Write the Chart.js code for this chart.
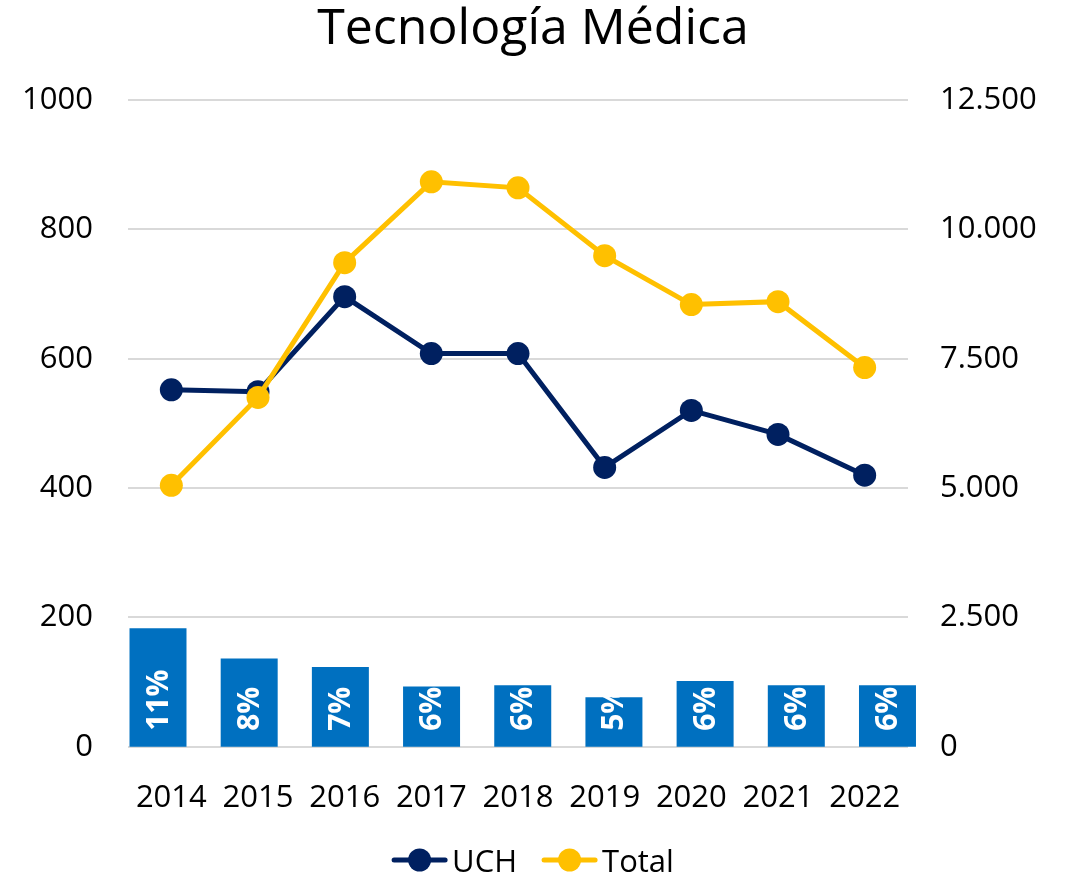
<!DOCTYPE html>
<html><head><meta charset="utf-8">
<script src="https://cdn.jsdelivr.net/npm/chart.js@4"></script>
<style>html,body{margin:0;padding:0;background:#fff}</style>
</head><body>
<canvas id="c" width="1066" height="877" style="width:1066px;height:877px;display:block"></canvas>
<script>
const years = ['2014','2015','2016','2017','2018','2019','2020','2021','2022'];
const uch = [552, 549, 696, 608, 608, 432, 520, 483, 420];
const total = [5054, 6752, 9356, 10918, 10802, 9491, 8546, 8603, 7330];
const share = [0.110, 0.082, 0.074, 0.056, 0.057, 0.046, 0.061, 0.057, 0.057];
const leftMax = 1000, leftStep = 200;
const rightMax = 12500, rightStep = 2500;
const shareMax = 0.6;

const NAVY = '#002060', YELLOW = '#FFC000', BLUE = '#0070C0';
const FONT = "'Open Sans', sans-serif";

function fmtDots(v) {
  return String(v).replace(/\B(?=(\d{3})+(?!\d))/g, '.');
}

const barLabels = {
  id: 'barLabels',
  afterDatasetDraw(chart, args) {
    if (args.index !== 0) return;
    const ctx = chart.ctx;
    ctx.save();
    ctx.fillStyle = '#ffffff';
    ctx.font = "bold 30px " + FONT;
    ctx.textAlign = 'left';
    ctx.textBaseline = 'middle';
    args.meta.data.forEach((bar, i) => {
      ctx.save();
      ctx.translate(bar.x + 1, bar.base - 16);
      ctx.rotate(-Math.PI / 2);
      ctx.fillText(Math.round(share[i] * 100) + '%', 0, 0);
      ctx.restore();
    });
    ctx.restore();
  }
};

const customLegend = {
  id: 'customLegend',
  afterDraw(chart) {
    const ctx = chart.ctx;
    const items = [chart.data.datasets[1], chart.data.datasets[2]];
    ctx.save();
    ctx.font = "31px " + FONT;
    const iconW = 55, gapText = 5, gapItem = 25;
    const widths = items.map(d => iconW + gapText + ctx.measureText(d.label).width);
    const totalW = widths.reduce((a, b) => a + b, 0) + gapItem * (items.length - 1);
    let x = chart.width / 2 - totalW / 2;
    const cy = 860;
    items.forEach((d, i) => {
      ctx.strokeStyle = d.borderColor; ctx.lineWidth = 5; ctx.lineCap = 'round';
      ctx.beginPath(); ctx.moveTo(x + 2, cy); ctx.lineTo(x + iconW - 2, cy); ctx.stroke();
      ctx.fillStyle = d.borderColor;
      ctx.beginPath(); ctx.arc(x + iconW / 2, cy, 11.5, 0, Math.PI * 2); ctx.fill();
      ctx.fillStyle = '#000'; ctx.textAlign = 'left'; ctx.textBaseline = 'alphabetic';
      ctx.fillText(d.label, x + iconW + gapText, 872);
      x += widths[i] + gapItem;
    });
    ctx.restore();
  }
};

new Chart(document.getElementById('c'), {
  data: {
    labels: years,
    datasets: [
      { type: 'bar', label: '%', data: share.map((v, i) => ({ x: i, y: v })), xAxisID: 'xb', yAxisID: 'yp',
        backgroundColor: BLUE, grouped: false, barPercentage: 0.625, categoryPercentage: 1,
        order: 3, clip: false },
      { type: 'line', label: 'UCH', data: uch, xAxisID: 'x', yAxisID: 'y', borderColor: NAVY, backgroundColor: NAVY,
        borderWidth: 5, pointRadius: 11.5, pointHoverRadius: 11.5, pointBorderWidth: 0, tension: 0, order: 2 },
      { type: 'line', label: 'Total', data: total, xAxisID: 'x', yAxisID: 'y2', borderColor: YELLOW, backgroundColor: YELLOW,
        borderWidth: 5, pointRadius: 11.5, pointHoverRadius: 11.5, pointBorderWidth: 0, tension: 0, order: 1 }
    ]
  },
  options: {
    responsive: false,
    animation: false,
    layout: { padding: { left: 0, right: 0, top: 0, bottom: 35 } },
    plugins: {
      tooltip: { enabled: false },
      legend: { display: false },
      title: { display: true, text: 'Tecnología Médica', color: '#000',
        font: { family: FONT, size: 50, weight: 'normal' }, padding: { top: 0, bottom: 40 } }
    },
    scales: {
      x: {
        offset: true,
        grid: { display: false },
        border: { display: false },
        ticks: { color: '#000', font: { family: FONT, size: 31 }, padding: 25 }
      },
      xb: { type: 'linear', position: 'top', display: true, offset: false, bounds: 'data', grace: 0,
        min: -0.329, max: 8.225,
        ticks: { display: false }, grid: { display: false, drawTicks: false }, border: { display: false },
        afterBuildTicks(s) { s.ticks = []; },
        afterFit(s) { s.height = 0; } },
      y: {
        position: 'left', min: 0, max: leftMax,
        ticks: { stepSize: leftStep, color: '#000', font: { family: FONT, size: 31 }, padding: 35,
          callback: v => String(v) },
        grid: { color: '#d9d9d9', lineWidth: 2, drawTicks: false },
        border: { display: false },
        afterFit(s) { s.width = 128; }
      },
      y2: {
        position: 'right', min: 0, max: rightMax,
        ticks: { stepSize: rightStep, color: '#000', font: { family: FONT, size: 31 }, padding: 32,
          callback: v => fmtDots(v) },
        grid: { display: false, drawTicks: false },
        border: { display: false },
        afterFit(s) { s.width = 158; }
      },
      yp: { display: false, min: 0, max: shareMax }
    }
  },
  plugins: [barLabels, customLegend]
});
</script>
</body></html>
